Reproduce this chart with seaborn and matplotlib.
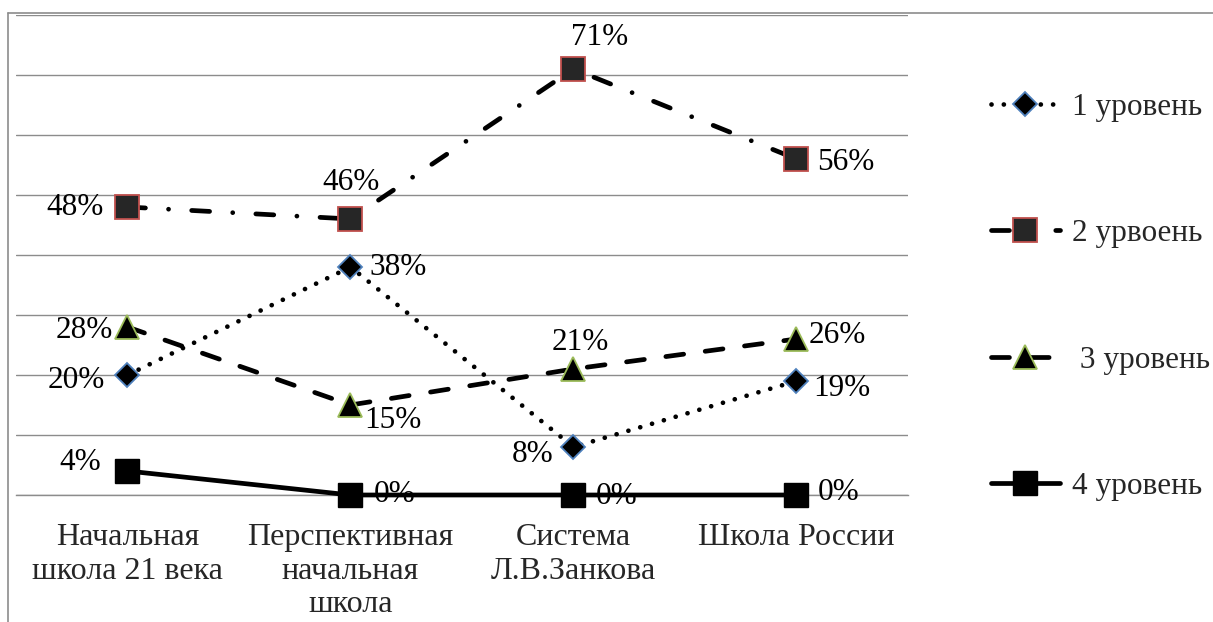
import matplotlib
matplotlib.use("Agg")
import matplotlib.pyplot as plt
import seaborn as sns
import pandas as pd
from matplotlib.lines import Line2D

# ---- data ----
categories = ["Начальная\nшкола 21 века", "Перспективная\nначальная\nшкола",
              "Система\nЛ.В.Занкова", "Школа России"]
series_names = ["1 уровень", "2 урвоень", " 3 уровень", "4 уровень"]
level1 = [20, 38, 8, 19]
level2 = [48, 46, 71, 56]
level3 = [28, 15, 21, 26]
level4 = [4, 0, 0, 0]
series_values = [level1, level2, level3, level4]
y_max = 80
y_step = 10

# ---- styles ----
W, H = 1213, 622
FS = 22.5
FS_CAT = 23
GRID = "#8c8c8c"
LW = 3.4
styles = [
    dict(marker="D", markersize=12.5, markerfacecolor="black", markeredgecolor="#4F81BD",
         markeredgewidth=1.3, linestyle=(0, (0.01, 2.6))),
    dict(marker="s", markersize=17, markerfacecolor="#262626", markeredgecolor="#C0504D",
         markeredgewidth=1.3, linestyle=(0, (3.8, 4.9, 0.01, 4.9))),
    dict(marker="^", markersize=17, markerfacecolor="black", markeredgecolor="#9BBB59",
         markeredgewidth=1.3, linestyle=(0, (3.8, 4.6))),
    dict(marker="s", markersize=17, markerfacecolor="black", markeredgecolor="black",
         markeredgewidth=1.0, linestyle="-"),
]
# label offsets in pixels (dx, dy) and horizontal alignment, per series per point
label_pos = [
    [(-22, -5, "right"), (19, 0, "left"), (-20, -8, "right"), (17, -7, "left")],
    [(-24, 0, "right"), (1, 37, "center"), (26, 32, "center"), (21, -3, "left")],
    [(-14, -3, "right"), (14, -15, "left"), (7, 27, "center"), (12, 4, "left")],
    [(-47, 9, "center"), (23, 0, "left"), (22, -2, "left"), (21, 3, "left")],
]

sns.set_theme(style="white")
plt.rcParams["font.family"] = ["Liberation Serif", "DejaVu Serif"]

fig = plt.figure(figsize=(W / 100, H / 100), dpi=100)
fig.patch.set_facecolor("white")
ax = fig.add_axes([16 / W, 1 - 495 / H, (908 - 16) / W, (495 - 15) / H])

for name, vals, st in zip(series_names, series_values, styles):
    df = pd.DataFrame({"cat": categories, "val": vals})
    sns.lineplot(data=df, x="cat", y="val", ax=ax, sort=False, errorbar=None,
                 color="black", linewidth=LW, dash_capstyle="round",
                 solid_capstyle="round", label=name, clip_on=False, zorder=5, **st)

# data labels
for vals, poss in zip(series_values, label_pos):
    for i, (v, (dx, dy, ha)) in enumerate(zip(vals, poss)):
        ax.annotate(f"{v}%", xy=(i, v), xytext=(dx, dy), textcoords="offset pixels",
                    ha=ha, va="center", fontsize=FS, color="black", zorder=10,
                    annotation_clip=False)

ax.set_xlim(-0.5, len(categories) - 0.5)
ax.set_ylim(0, y_max)
ax.set_yticks(range(0, y_max + 1, y_step))
ax.set_yticklabels([])
ax.tick_params(axis="y", length=0)
ax.grid(axis="y", color=GRID, linewidth=1.0)
ax.grid(axis="x", visible=False)
ax.set_axisbelow(True)
ax.set_xlabel("")
ax.set_ylabel("")

ax.set_xticks(range(len(categories)))
ax.set_xticklabels(categories, fontsize=FS_CAT, linespacing=1.22)
ax.set_xticks([i - 0.5 for i in range(len(categories) + 1)], minor=True)
ax.tick_params(axis="x", which="major", length=0, pad=20)
ax.tick_params(axis="x", which="minor", length=6.5, width=1, color=GRID, direction="out")
for s in ["top", "right", "left"]:
    ax.spines[s].set_visible(False)
ax.spines["bottom"].set_color(GRID)
ax.spines["bottom"].set_linewidth(1.0)
ax.spines["bottom"].set_zorder(1)
ax.patch.set_alpha(0)

# legend
handles = ax.get_lines()[:len(series_names)]
ax.legend(handles, series_names, loc="center left",
          bbox_to_anchor=(991 / W, 1 - 297 / H), bbox_transform=fig.transFigure,
          frameon=False, fontsize=FS, handlelength=2.2, handletextpad=0.4,
          labelspacing=3.12, borderpad=0, borderaxespad=0, numpoints=1)

# outer chart frame
fig.add_artist(Line2D([8 / W, 1], [1 - 13 / H] * 2, transform=fig.transFigure,
                      color=GRID, linewidth=1.2))
fig.add_artist(Line2D([8 / W, 8 / W], [0, 1 - 13 / H], transform=fig.transFigure,
                      color=GRID, linewidth=1.2))

fig.savefig("out.png", dpi=100, facecolor="white")
